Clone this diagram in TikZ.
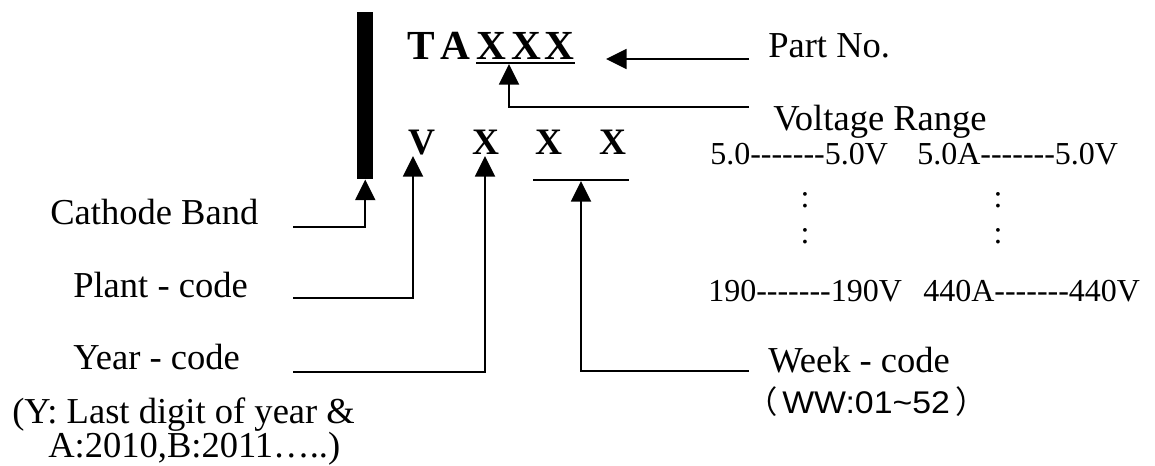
\documentclass[tikz,border=0pt]{standalone}
\usepackage{fontspec}
\setmainfont{Liberation Serif}
\newfontfamily\sansf{Liberation Sans}[FakeStretch=1.08]
\newfontfamily\cjk{Noto Sans CJK SC}
\usetikzlibrary{arrows.meta}
\newcommand\hyph{-\kern0pt}
\newcommand\dashrun{\hyph\hyph\hyph\hyph\hyph\hyph\hyph}
\tikzset{
  lbl/.style={anchor=base west, inner sep=0pt, font=\fontsize{27.4}{30}\selectfont},
  num/.style={anchor=base west, inner sep=0pt, font=\fontsize{24}{26}\selectfont},
  colon/.style={anchor=base, inner sep=0pt, font=\fontsize{24}{26}\selectfont},
  bigtop/.style={anchor=base, inner sep=0pt, font=\fontsize{31}{33}\selectfont\bfseries},
  bigbot/.style={anchor=base, inner sep=0pt, font=\fontsize{28}{30}\selectfont\bfseries},
  conn/.style={line width=1.4pt, -{Triangle[length=15.5pt,width=15pt]}},
  plain/.style={line width=1.4pt},
}
\begin{document}
\begin{tikzpicture}[x=0.75pt,y=-0.75pt]
\useasboundingbox (0,0) rectangle (1155,466);
% cathode band
\node[fill=black, inner sep=0pt, minimum width=12pt, minimum height=125.25pt, anchor=north west] (bar) at (357,12) {};
% top row
\node[bigtop] (T) at (421,60) {T};
\node[bigtop] (A) at (455,60) {A};
\node[bigtop] (X1t) at (491.5,60) {X};
\node[bigtop] (X2t) at (526,60) {X};
\node[bigtop] (X3t) at (559,60) {X};
\coordinate (ulA) at (476,63);
\coordinate (ulB) at (575,63);
\draw[line width=2.2pt] (ulA) -- (ulB);
\coordinate (ulM) at (509,64);
% bottom row
\node[bigbot] (V) at (422,155) {V};
\node[bigbot] (X1) at (485.5,155) {X};
\node[bigbot] (X2) at (548.5,155) {X};
\node[bigbot] (X3) at (613,155) {X};
\coordinate (wkA) at (533,180);
\coordinate (wkB) at (629,180);
\draw[plain] (wkA) -- (wkB);
\coordinate (wkM) at (581,181);
% left labels
\node[lbl] (cb) at (50,225) {Cathode Band};
\node[lbl] (pc) at (73,298) {Plant - code};
\node[lbl] (yc) at (73,369) {Year - code};
\node[lbl] (yn1) at (12,423) {(Y: Last digit of year \&};
\node[lbl] (yn2) at (48,457) {A:2010,B:2011…..)};
% right labels
\node[lbl] (pn) at (768,58) {Part No.};
\node[lbl] (vr) at (773,131) {Voltage Range};
\node[num] (r1a) at (710,165) {5.0\dashrun 5.0V};
\node[num] (r1b) at (917,165) {5.0A\dashrun 5.0V};
\node[colon] (c1) at (805,208) {:};
\node[colon] (c2) at (805,244) {:};
\node[colon] (c3) at (998,208) {:};
\node[colon] (c4) at (998,244) {:};
\node[num] (r2a) at (708,301) {190\dashrun 190V};
\node[num] (r2b) at (923,301) {440A\dashrun 440V};
\node[lbl] (wc) at (768,372) {Week - code};
\node[anchor=base west, inner sep=0pt, font=\fontsize{23.5}{25}\selectfont] (ww) at (746,413) {{\cjk （}\kern3.5pt{\sansf WW:01\textasciitilde 52}\kern4.5pt{\cjk ）}};
% connector anchor points
\coordinate (pnS) at (749,59);
\coordinate (pnT) at (606,59);
\coordinate (vrS) at (749,107);
\coordinate (cbS) at (293,227);
\coordinate (pcS) at (293,298);
\coordinate (ycS) at (293,372);
\coordinate (wcS) at (749,371);
\coordinate (Vt) at (413,156);
\coordinate (X1b) at (485,156);
% connectors
\draw[conn] (pnS) -- (pnT);
\draw[conn] (vrS) -| (ulM);
\draw[conn] (cbS) -| (bar.south);
\draw[conn] (pcS) -| (Vt);
\draw[conn] (ycS) -| (X1b);
\draw[conn] (wcS) -| (wkM);
\end{tikzpicture}
\end{document}
